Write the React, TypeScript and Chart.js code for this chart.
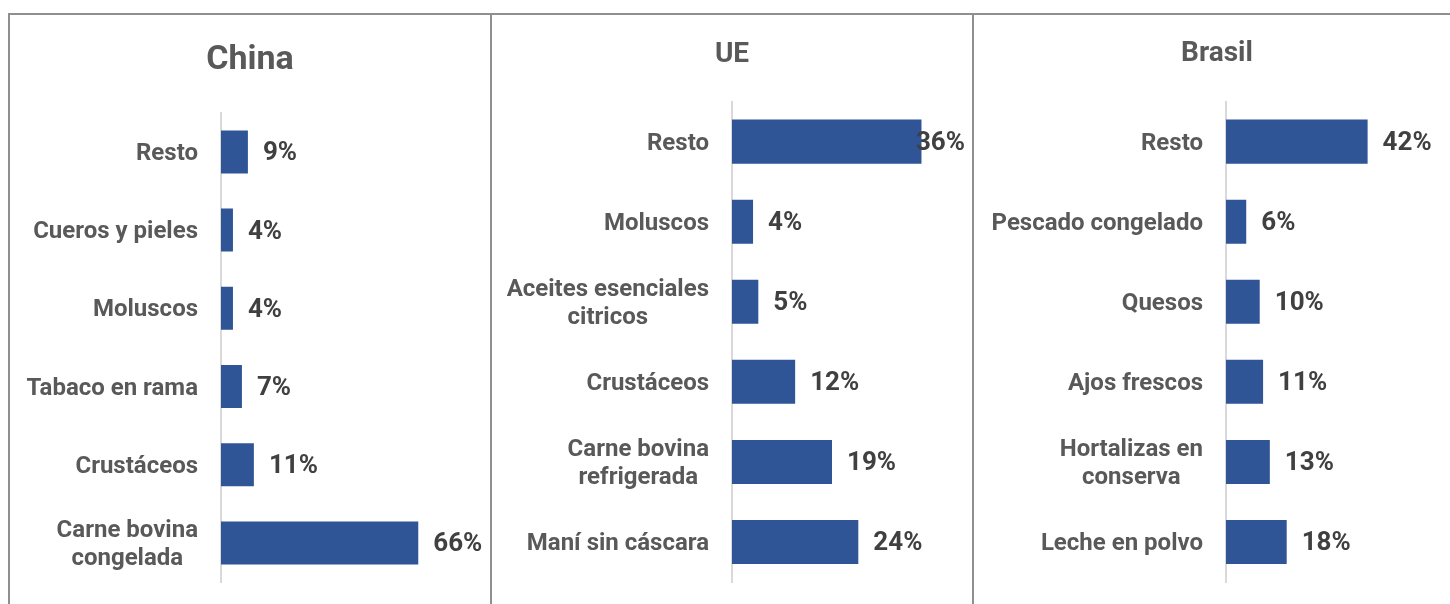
import React, { useEffect, useRef } from "react";
import { Chart, registerables } from "chart.js";

Chart.register(...registerables);

// ---- Data ----
const chinaCategories: (string | string[])[] = [
  "Resto",
  "Cueros y pieles",
  "Moluscos",
  "Tabaco en rama",
  "Crustáceos",
  ["Carne bovina", "congelada"],
];
const chinaValues = [9, 4, 4, 7, 11, 66];

const ueCategories: (string | string[])[] = [
  "Resto",
  "Moluscos",
  ["Aceites esenciales", "citricos"],
  "Crustáceos",
  ["Carne bovina", "refrigerada"],
  "Maní sin cáscara",
];
const ueValues = [36, 4, 5, 12, 19, 24];

const brasilCategories: (string | string[])[] = [
  "Resto",
  "Pescado congelado",
  "Quesos",
  "Ajos frescos",
  ["Hortalizas en", "conserva"],
  "Leche en polvo",
];
const brasilValues = [42, 6, 10, 11, 13, 18];

const FONT = "Roboto, 'Liberation Sans', sans-serif";
const BAR_COLOR = "#2F5597";
const LABEL_COLOR = "#595959";
const VALUE_COLOR = "#404040";
const BORDER_COLOR = "#8f8f8f";

type PanelCfg = {
  title: string;
  titleSize: number;
  titlePadTop: number;
  titlePadBottom: number;
  categories: (string | string[])[];
  values: number[];
  xMax: number;
  axisLeft: number;
  padBottom: number;
  left: number;
  width: number;
};

const labelPlugin = {
  id: "panelLabels",
  afterDatasetsDraw(chart: any) {
    const ctx = chart.ctx as CanvasRenderingContext2D;
    const meta = chart.getDatasetMeta(0);
    const yScale = chart.scales.y;
    const labels = chart.data.labels as (string | string[])[];
    const data = chart.data.datasets[0].data as number[];
    ctx.save();
    ctx.textBaseline = "middle";
    // category labels: block right-aligned, lines centered within block
    ctx.font = `bold 24px ${FONT}`;
    ctx.fillStyle = LABEL_COLOR;
    ctx.textAlign = "center";
    labels.forEach((lab, i) => {
      const lines = Array.isArray(lab) ? lab : [lab];
      const y = yScale.getPixelForValue(i) + 2;
      const w = Math.max(...lines.map((l) => ctx.measureText(l).width));
      const cx = chart.chartArea.left - 23 - w / 2;
      lines.forEach((l, k) => {
        ctx.fillText(l, cx, y + (k - (lines.length - 1) / 2) * 28.5);
      });
    });
    // value labels
    ctx.font = `bold 26px ${FONT}`;
    ctx.fillStyle = VALUE_COLOR;
    ctx.textAlign = "left";
    meta.data.forEach((bar: any, i: number) => {
      const t = `${data[i]}%`;
      const w = ctx.measureText(t).width;
      let x = bar.x + 15;
      if (x + w > chart.width - 7) x = chart.width - 7 - w;
      ctx.fillText(t, x, bar.y + 2);
    });
    ctx.restore();
  },
};

function Panel({ cfg }: { cfg: PanelCfg }) {
  const ref = useRef<HTMLCanvasElement | null>(null);
  useEffect(() => {
    if (!ref.current) return;
    const chart = new Chart(ref.current, {
      type: "bar",
      data: {
        labels: cfg.categories as any,
        datasets: [
          {
            data: cfg.values,
            backgroundColor: BAR_COLOR,
            borderWidth: 0,
            barPercentage: 0.55,
            categoryPercentage: 1,
          },
        ],
      },
      options: {
        indexAxis: "y",
        responsive: false,
        animation: false,
        devicePixelRatio: 1,
        layout: { padding: { left: 0, right: 0, top: 0, bottom: cfg.padBottom } },
        plugins: {
          legend: { display: false },
          tooltip: { enabled: false },
          title: {
            display: true,
            text: cfg.title,
            color: LABEL_COLOR,
            font: { family: FONT, size: cfg.titleSize, weight: "bold" },
            padding: { top: cfg.titlePadTop, bottom: cfg.titlePadBottom },
          },
        },
        scales: {
          x: { display: false, min: 0, max: cfg.xMax },
          y: {
            display: true,
            ticks: { display: false },
            grid: { display: false, drawTicks: false, tickLength: 0 },
            border: { display: true, color: "#D9D9D9", width: 2 },
            afterFit: (scale: any) => {
              scale.width = cfg.axisLeft;
            },
          },
        },
      },
      plugins: [labelPlugin],
    });
    return () => chart.destroy();
  }, [cfg]);
  return (
    <canvas
      ref={ref}
      width={cfg.width}
      height={589}
      style={{ position: "absolute", left: cfg.left, top: 15, width: cfg.width, height: 589 }}
    />
  );
}

const panels: PanelCfg[] = [
  {
    title: "China",
    titleSize: 34,
    titlePadTop: 25,
    titlePadBottom: 32,
    categories: chinaCategories,
    values: chinaValues,
    xMax: 90,
    axisLeft: 211,
    padBottom: 22,
    left: 10,
    width: 480,
  },
  {
    title: "UE",
    titleSize: 28,
    titlePadTop: 23,
    titlePadBottom: 30,
    categories: ueCategories,
    values: ueValues,
    xMax: 45.6,
    axisLeft: 240,
    padBottom: 22,
    left: 492,
    width: 480,
  },
  {
    title: "Brasil",
    titleSize: 28,
    titlePadTop: 22,
    titlePadBottom: 31,
    categories: brasilCategories,
    values: brasilValues,
    xMax: 69.4,
    axisLeft: 252,
    padBottom: 22,
    left: 974,
    width: 486,
  },
];

export default function App() {
  return (
    <div
      style={{
        position: "fixed",
        left: 0,
        top: 0,
        width: 1450,
        height: 604,
        overflow: "hidden",
        background: "#ffffff",
      }}
    >
      {panels.map((p) => (
        <Panel key={p.title} cfg={p} />
      ))}
      <div style={{ position: "absolute", left: 8, top: 13, width: 1442, height: 2, background: BORDER_COLOR }} />
      {[8, 490, 972].map((x) => (
        <div
          key={x}
          style={{ position: "absolute", left: x, top: 13, width: 2, height: 591, background: BORDER_COLOR }}
        />
      ))}
    </div>
  );
}
